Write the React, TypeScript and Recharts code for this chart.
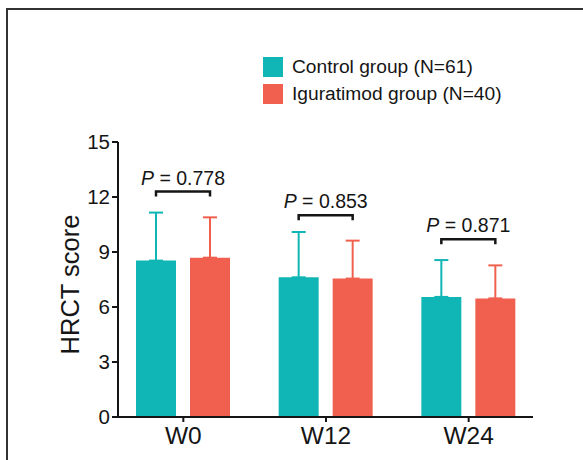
import { BarChart, Bar, XAxis, YAxis, ErrorBar, LabelList, Legend } from "recharts";

// categories and values (mean + SD, one-sided error bars)
const weeks = ["W0", "W12", "W24"];
const controlMean = [8.53, 7.62, 6.55];
const controlSd = [2.62, 2.47, 2.01];
const iguratimodMean = [8.69, 7.55, 6.47];
const iguratimodSd = [2.2, 2.07, 1.8];
const pValues = ["0.778", "0.853", "0.871"];
const bracketLevel = [12.3, 11.0, 9.7];
const yTicks = [0, 3, 6, 9, 12, 15];
const seriesNames = ["Control group (N=61)", "Iguratimod group (N=40)"];

const TEAL = "#10b6b5";
const CORAL = "#f1604f";
const INK = "#151515";
const FONT = '"Liberation Sans", Arial, sans-serif';
const BAR_SIZE = 40;
const BAR_GAP = 14;

const data = weeks.map((week, i) => ({
  week,
  control: controlMean[i],
  controlErr: [0, controlSd[i]],
  iguratimod: iguratimodMean[i],
  iguratimodErr: [0, iguratimodSd[i]],
  bracket: bracketLevel[i],
}));

// draws the "P = x" bracket over each pair, using the teal bar's geometry for scale
const PBracket = (props: any) => {
  const vb = props.viewBox ?? props;
  const { x, y, width, height } = vb;
  const i = props.index;
  if (x == null || i == null) return null;
  const perUnit = height / controlMean[i];
  const base = y + height;
  const by = base - bracketLevel[i] * perUnit;
  const x1 = x + width / 2;
  const x2 = x1 + width + BAR_GAP;
  return (
    <g>
      <path
        d={`M${x1},${by + 5}V${by}H${x2}V${by + 5}`}
        stroke={INK}
        strokeWidth={2.5}
        fill="none"
      />
      <text
        x={(x1 + x2) / 2}
        y={by - 7}
        textAnchor="middle"
        fontSize={19.5}
        fontFamily={FONT}
        fill={INK}
      >
        <tspan fontStyle="italic">P</tspan> = {pValues[i]}
      </text>
    </g>
  );
};

const YLabel = (props: any) => {
  const { x, y, height } = props.viewBox;
  const cx = x + 12;
  const cy = y + height / 2 + 5;
  return (
    <text
      x={cx}
      y={cy}
      transform={`rotate(-90, ${cx}, ${cy})`}
      textAnchor="middle"
      dominantBaseline="central"
      fontSize={25.5}
      fontFamily={FONT}
      fill={INK}
    >
      HRCT score
    </text>
  );
};

const renderLegend = ({ payload }: any) => (
  <div style={{ fontFamily: FONT, color: INK }}>
    {(payload || []).map((p: any) => (
      <div key={p.value} style={{ display: "flex", alignItems: "center", height: 27 }}>
        <span style={{ width: 20, height: 20, background: p.color, marginRight: 9 }} />
        <span style={{ fontSize: 19.2 }}>{p.value}</span>
      </div>
    ))}
  </div>
);

export default function App() {
  return (
    <div style={{ position: "relative", width: 583, height: 460, overflow: "hidden", background: "#fff" }}>
      <style>{`body{margin:0}`}</style>
      <div
        style={{
          position: "absolute",
          left: 6,
          top: 8,
          width: 620,
          height: 500,
          borderLeft: "2px solid #333",
          borderTop: "2px solid #333",
        }}
      />
      <div style={{ position: "absolute", left: 0, top: 0 }}>
        <BarChart
          width={583}
          height={460}
          data={data}
          margin={{ top: 142, right: 50, bottom: 0, left: 58 }}
          barSize={BAR_SIZE}
          barGap={BAR_GAP}
        >
          <XAxis
            dataKey="week"
            padding={{ left: -6, right: -7 }}
            axisLine={{ stroke: INK, strokeWidth: 2 }}
            tickLine={{ stroke: INK, strokeWidth: 2 }}
            tickSize={5}
            tickMargin={5}
            tick={{ fontSize: 24.5, fontFamily: FONT, fill: INK }}
            height={43}
          />
          <YAxis
            width={60}
            domain={[0, 15]}
            ticks={yTicks}
            interval={0}
            axisLine={{ stroke: INK, strokeWidth: 2 }}
            tickLine={{ stroke: INK, strokeWidth: 2 }}
            tickSize={6}
            tickMargin={2}
            tick={{ fontSize: 20.5, fontFamily: FONT, fill: INK }}
            label={<YLabel />}
          />
          <Legend
            layout="vertical"
            align="center"
            verticalAlign="middle"
            content={renderLegend}
            wrapperStyle={{ top: 53, left: 263, width: "auto", height: "auto" }}
          />
          <Bar dataKey="control" name={seriesNames[0]} fill={TEAL} isAnimationActive={false}>
            <ErrorBar dataKey="controlErr" width={7} stroke={TEAL} strokeWidth={2} direction="y" />
            <LabelList dataKey="bracket" content={<PBracket />} />
          </Bar>
          <Bar dataKey="iguratimod" name={seriesNames[1]} fill={CORAL} isAnimationActive={false}>
            <ErrorBar dataKey="iguratimodErr" width={7} stroke={CORAL} strokeWidth={2} direction="y" />
          </Bar>
        </BarChart>
      </div>
    </div>
  );
}
